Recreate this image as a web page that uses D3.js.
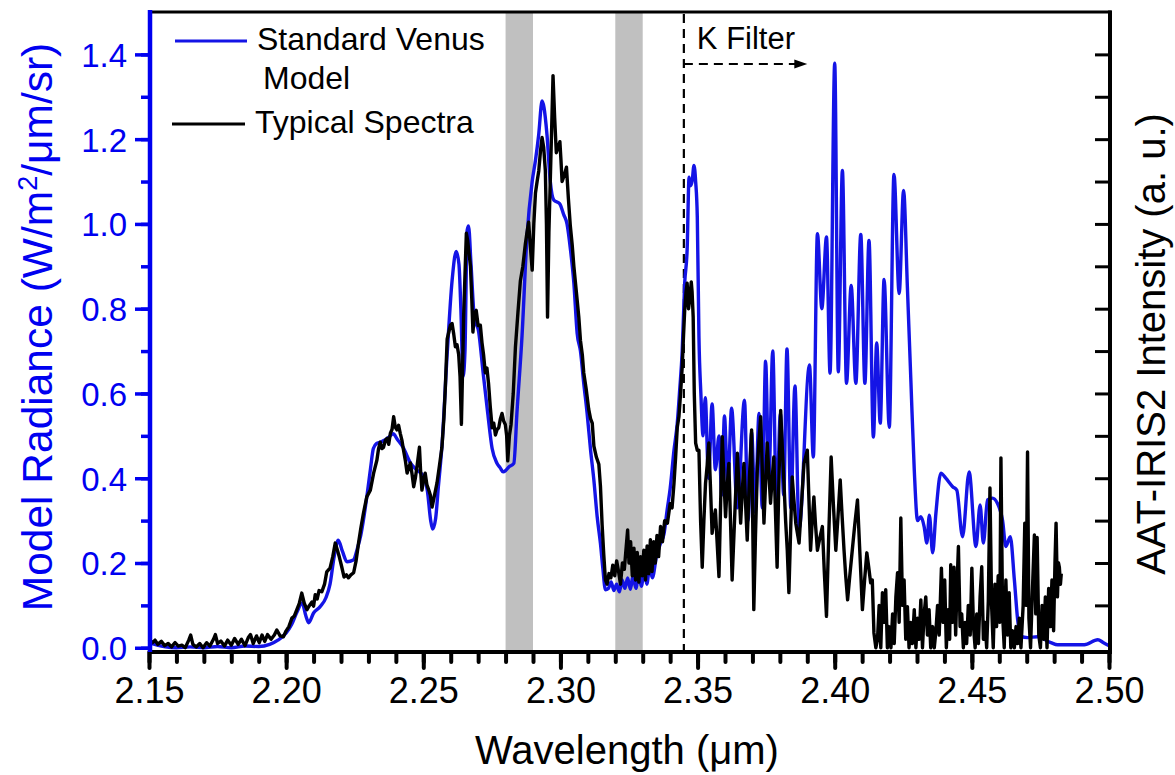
<!DOCTYPE html>
<html>
<head>
<meta charset="utf-8">
<script src="https://cdn.jsdelivr.net/npm/d3@7"></script>
<style>
  body { margin: 0; background: #fff; }
  svg text { font-family: "Liberation Sans", Arial, sans-serif; }
</style>
</head>
<body>
<div id="chart"></div>
<script>
// Tick values
const wavelengthTicks = [2.15, 2.20, 2.25, 2.30, 2.35, 2.40, 2.45, 2.50];
const radianceTicks = [0.0, 0.2, 0.4, 0.6, 0.8, 1.0, 1.2, 1.4];

// Grey bands and K filter marker (wavelength, um)
const shadedBands = [[2.28, 2.29], [2.32, 2.33]];
const kFilterStart = 2.345;
const kFilterArrowEnd = 2.39;

// Standard Venus model: [wavelength, radiance]
const modelSpectrum = [
  [2.150, 0.012], [2.153, 0.006], [2.156, 0.002], [2.160, 0.000], [2.165, 0.002], [2.170, 0.000],
  [2.175, 0.003], [2.180, 0.000], [2.185, 0.004], [2.190, 0.003], [2.194, 0.008], [2.197, 0.018],
  [2.200, 0.035], [2.202, 0.055], [2.204, 0.085], [2.2058, 0.106], [2.2072, 0.075], [2.2082, 0.059],
  [2.2100, 0.082], [2.2124, 0.097], [2.2145, 0.118], [2.2160, 0.150], [2.2175, 0.215], [2.2190, 0.254],
  [2.2205, 0.228], [2.2222, 0.203], [2.2245, 0.207], [2.2260, 0.235], [2.2272, 0.265], [2.2285, 0.315],
  [2.2296, 0.365], [2.2308, 0.425], [2.2318, 0.470], [2.2330, 0.482], [2.2343, 0.485], [2.2360, 0.490],
  [2.2375, 0.497], [2.2390, 0.505], [2.2405, 0.492], [2.2427, 0.472], [2.2453, 0.436], [2.2475, 0.420],
  [2.2500, 0.405], [2.2515, 0.370], [2.2527, 0.300], [2.2534, 0.280], [2.2545, 0.305], [2.2555, 0.380],
  [2.2568, 0.476], [2.2587, 0.692], [2.2605, 0.866], [2.2620, 0.935], [2.2630, 0.905], [2.2637, 0.800],
  [2.2645, 0.640], [2.2652, 0.700], [2.2660, 0.985], [2.2665, 0.995], [2.2674, 0.905], [2.2686, 0.780],
  [2.2702, 0.745], [2.2718, 0.650], [2.2735, 0.553], [2.2751, 0.470], [2.2769, 0.435], [2.2780, 0.425],
  [2.2791, 0.415], [2.2800, 0.418], [2.2811, 0.426], [2.2830, 0.435], [2.2842, 0.560], [2.2860, 0.736],
  [2.2878, 0.969], [2.2897, 1.100], [2.2909, 1.150], [2.2921, 1.212], [2.2933, 1.290], [2.2940, 1.275],
  [2.2951, 1.210], [2.2963, 1.100], [2.2976, 1.056], [2.2997, 1.048], [2.3012, 1.022], [2.3024, 1.000],
  [2.3037, 0.937], [2.3049, 0.860], [2.3061, 0.742], [2.3073, 0.700], [2.3085, 0.624], [2.3097, 0.555],
  [2.3110, 0.466], [2.3122, 0.395], [2.3134, 0.309], [2.3146, 0.245], [2.3155, 0.185], [2.3164, 0.137],
  [2.3175, 0.140], [2.3185, 0.155], [2.3195, 0.135], [2.3205, 0.150], [2.3215, 0.132], [2.3225, 0.160],
  [2.3235, 0.140], [2.3245, 0.165], [2.3255, 0.138], [2.3265, 0.170], [2.3275, 0.140], [2.3285, 0.175],
  [2.3295, 0.145], [2.3305, 0.180], [2.3315, 0.150], [2.3325, 0.190], [2.3335, 0.165], [2.3350, 0.215],
  [2.3365, 0.247], [2.3378, 0.270], [2.3389, 0.325], [2.3400, 0.375], [2.3414, 0.466], [2.3426, 0.530],
  [2.3435, 0.610], [2.3444, 0.700], [2.3453, 0.860], [2.3462, 0.940], [2.3469, 1.110], [2.3474, 1.090],
  [2.3480, 1.100], [2.3487, 1.138], [2.3493, 1.100], [2.3499, 1.016], [2.3505, 0.733], [2.3512, 0.600],
  [2.3520, 0.500], [2.3528, 0.590], [2.3540, 0.400], [2.3553, 0.575], [2.3565, 0.420], [2.3578, 0.500],
  [2.3588, 0.360], [2.3598, 0.547], [2.3610, 0.380], [2.3624, 0.565], [2.3645, 0.330], [2.3671, 0.584],
  [2.3684, 0.300], [2.3697, 0.509], [2.3710, 0.320], [2.3724, 0.553], [2.3736, 0.330], [2.3748, 0.676],
  [2.3760, 0.400], [2.3774, 0.700], [2.3788, 0.330], [2.3802, 0.553], [2.3814, 0.360], [2.3826, 0.705],
  [2.3840, 0.330], [2.3855, 0.618], [2.3870, 0.280], [2.3908, 0.667], [2.3922, 0.450], [2.3937, 0.977],
  [2.3953, 0.800], [2.3970, 0.969], [2.3983, 0.648], [2.4000, 1.379], [2.4013, 0.651], [2.4028, 1.126],
  [2.4043, 0.624], [2.4060, 0.855], [2.4077, 0.624], [2.4095, 0.975], [2.4110, 0.624], [2.4125, 0.961],
  [2.4141, 0.497], [2.4153, 0.719], [2.4166, 0.530], [2.4180, 0.869], [2.4199, 0.520], [2.4216, 1.117],
  [2.4235, 0.836], [2.4251, 1.079], [2.4265, 0.850], [2.4278, 0.624], [2.4290, 0.420], [2.4302, 0.300],
  [2.4314, 0.309], [2.4326, 0.286], [2.4336, 0.247], [2.4345, 0.313], [2.4357, 0.224], [2.4369, 0.318],
  [2.4387, 0.412], [2.4405, 0.400], [2.4430, 0.380], [2.4445, 0.372], [2.4466, 0.262], [2.4490, 0.415],
  [2.4515, 0.239], [2.4530, 0.337], [2.4542, 0.247], [2.4557, 0.349], [2.4575, 0.353], [2.4593, 0.341],
  [2.4612, 0.300], [2.4624, 0.239], [2.4640, 0.262], [2.4655, 0.160], [2.4667, 0.066], [2.4679, 0.027],
  [2.4703, 0.024], [2.4740, 0.026], [2.4788, 0.012], [2.4813, 0.007], [2.4910, 0.007], [2.4959, 0.019],
  [2.4980, 0.012], [2.5000, 0.005]
];

// AAT-IRIS2 typical spectrum: [wavelength, intensity]
const observedSpectrum = [
  [2.1500, 0.020], [2.1512, 0.012], [2.1522, 0.018], [2.1532, 0.008], [2.1545, 0.015], [2.1557, 0.005],
  [2.1570, 0.010], [2.1582, 0.002], [2.1595, 0.012], [2.1607, 0.004], [2.1620, 0.006], [2.1632, 0.000],
  [2.1645, 0.018], [2.1652, 0.030], [2.1660, 0.008], [2.1672, 0.002], [2.1685, 0.010], [2.1697, 0.000],
  [2.1710, 0.012], [2.1722, 0.004], [2.1735, 0.020], [2.1742, 0.031], [2.1750, 0.010], [2.1762, 0.016],
  [2.1775, 0.004], [2.1787, 0.018], [2.1800, 0.006], [2.1812, 0.022], [2.1825, 0.008], [2.1837, 0.020],
  [2.1850, 0.005], [2.1862, 0.024], [2.1870, 0.031], [2.1880, 0.010], [2.1892, 0.028], [2.1902, 0.012],
  [2.1912, 0.030], [2.1922, 0.015], [2.1932, 0.031], [2.1945, 0.020], [2.1957, 0.030], [2.1966, 0.042],
  [2.1978, 0.028], [2.1990, 0.026], [2.2000, 0.040], [2.2010, 0.050], [2.2021, 0.070], [2.2030, 0.075],
  [2.2039, 0.090], [2.2048, 0.105], [2.2057, 0.129], [2.2066, 0.105], [2.2076, 0.090], [2.2085, 0.100],
  [2.2094, 0.108], [2.2100, 0.098], [2.2106, 0.125], [2.2113, 0.115], [2.2120, 0.135], [2.2130, 0.132],
  [2.2140, 0.150], [2.2148, 0.179], [2.2160, 0.188], [2.2170, 0.215], [2.2179, 0.247], [2.2187, 0.230],
  [2.2194, 0.214], [2.2203, 0.190], [2.2211, 0.167], [2.2220, 0.172], [2.2227, 0.165], [2.2236, 0.172],
  [2.2246, 0.177], [2.2255, 0.205], [2.2264, 0.247], [2.2273, 0.285], [2.2282, 0.318], [2.2294, 0.356],
  [2.2307, 0.372], [2.2319, 0.412], [2.2331, 0.443], [2.2337, 0.470], [2.2343, 0.485], [2.2349, 0.470],
  [2.2355, 0.473], [2.2362, 0.490], [2.2368, 0.494], [2.2374, 0.480], [2.2380, 0.506], [2.2386, 0.515],
  [2.2392, 0.545], [2.2398, 0.520], [2.2404, 0.514], [2.2410, 0.525], [2.2416, 0.506], [2.2422, 0.490],
  [2.2428, 0.466], [2.2435, 0.440], [2.2441, 0.412], [2.2447, 0.425], [2.2453, 0.436], [2.2459, 0.410],
  [2.2465, 0.380], [2.2471, 0.400], [2.2477, 0.427], [2.2486, 0.473], [2.2490, 0.420], [2.2495, 0.372],
  [2.2501, 0.395], [2.2507, 0.412], [2.2513, 0.385], [2.2520, 0.372], [2.2526, 0.360], [2.2532, 0.332],
  [2.2541, 0.360], [2.2550, 0.389], [2.2559, 0.430], [2.2568, 0.473], [2.2575, 0.540], [2.2580, 0.608],
  [2.2587, 0.728], [2.2593, 0.745], [2.2599, 0.761], [2.2605, 0.765], [2.2611, 0.740], [2.2617, 0.710],
  [2.2623, 0.715], [2.2629, 0.692], [2.2634, 0.640], [2.2639, 0.527], [2.2643, 0.650], [2.2647, 0.780],
  [2.2652, 0.880], [2.2657, 0.978], [2.2662, 0.960], [2.2667, 0.930], [2.2672, 0.900], [2.2677, 0.820],
  [2.2681, 0.745], [2.2687, 0.790], [2.2693, 0.796], [2.2700, 0.760], [2.2708, 0.761], [2.2714, 0.720],
  [2.2720, 0.690], [2.2726, 0.649], [2.2732, 0.660], [2.2738, 0.623], [2.2744, 0.570], [2.2751, 0.519],
  [2.2757, 0.530], [2.2763, 0.502], [2.2769, 0.515], [2.2775, 0.519], [2.2781, 0.540], [2.2787, 0.553],
  [2.2793, 0.535], [2.2799, 0.527], [2.2804, 0.500], [2.2808, 0.441], [2.2814, 0.500], [2.2820, 0.527],
  [2.2828, 0.600], [2.2836, 0.710], [2.2845, 0.790], [2.2854, 0.866], [2.2863, 0.900], [2.2872, 0.952],
  [2.2878, 0.980], [2.2884, 1.004], [2.2890, 0.950], [2.2897, 0.891], [2.2903, 1.000], [2.2909, 1.073],
  [2.2915, 1.100], [2.2921, 1.125], [2.2927, 1.170], [2.2933, 1.204], [2.2939, 1.180], [2.2945, 1.126],
  [2.2949, 1.000], [2.2953, 0.780], [2.2958, 0.980], [2.2964, 1.126], [2.2969, 1.250], [2.2973, 1.350],
  [2.2979, 1.250], [2.2985, 1.168], [2.2991, 1.180], [2.2998, 1.194], [2.3002, 1.150], [2.3006, 1.100],
  [2.3014, 1.115], [2.3022, 1.134], [2.3029, 1.060], [2.3036, 0.996], [2.3043, 0.950], [2.3049, 0.900],
  [2.3058, 0.840], [2.3067, 0.780], [2.3073, 0.725], [2.3080, 0.690], [2.3085, 0.649], [2.3094, 0.610],
  [2.3103, 0.563], [2.3110, 0.540], [2.3116, 0.530], [2.3122, 0.476], [2.3131, 0.450], [2.3140, 0.433],
  [2.3146, 0.380], [2.3152, 0.290], [2.3158, 0.220], [2.3164, 0.160], [2.3170, 0.150], [2.3177, 0.175],
  [2.3184, 0.165], [2.3191, 0.195], [2.3198, 0.170], [2.3205, 0.205], [2.3212, 0.180], [2.3219, 0.150],
  [2.3226, 0.200], [2.3233, 0.185], [2.3240, 0.240], [2.3245, 0.278], [2.3250, 0.200], [2.3256, 0.250],
  [2.3262, 0.170], [2.3268, 0.235], [2.3274, 0.160], [2.3280, 0.225], [2.3286, 0.155], [2.3292, 0.215],
  [2.3298, 0.170], [2.3304, 0.230], [2.3310, 0.160], [2.3316, 0.240], [2.3322, 0.175], [2.3328, 0.255],
  [2.3334, 0.180], [2.3340, 0.250], [2.3346, 0.200], [2.3352, 0.265], [2.3358, 0.215], [2.3365, 0.286],
  [2.3372, 0.250], [2.3380, 0.300], [2.3390, 0.294], [2.3400, 0.340], [2.3407, 0.330], [2.3414, 0.388],
  [2.3420, 0.450], [2.3426, 0.520], [2.3432, 0.545], [2.3438, 0.600], [2.3444, 0.663], [2.3449, 0.740],
  [2.3453, 0.796], [2.3458, 0.840], [2.3462, 0.860], [2.3467, 0.800], [2.3471, 0.820], [2.3477, 0.863],
  [2.3480, 0.840], [2.3484, 0.780], [2.3488, 0.600], [2.3493, 0.483], [2.3499, 0.466], [2.3505, 0.466],
  [2.3511, 0.300], [2.3517, 0.190], [2.3523, 0.300], [2.3529, 0.388], [2.3535, 0.430], [2.3541, 0.483],
  [2.3547, 0.380], [2.3553, 0.270], [2.3559, 0.300], [2.3565, 0.325], [2.3572, 0.240], [2.3578, 0.168],
  [2.3584, 0.340], [2.3590, 0.498], [2.3596, 0.400], [2.3602, 0.309], [2.3608, 0.380], [2.3614, 0.435],
  [2.3620, 0.300], [2.3626, 0.160], [2.3636, 0.320], [2.3645, 0.459], [2.3651, 0.380], [2.3657, 0.294],
  [2.3663, 0.370], [2.3669, 0.435], [2.3675, 0.340], [2.3681, 0.254], [2.3689, 0.400], [2.3697, 0.514],
  [2.3701, 0.300], [2.3705, 0.090], [2.3711, 0.260], [2.3718, 0.427], [2.3724, 0.490], [2.3730, 0.545],
  [2.3736, 0.420], [2.3742, 0.294], [2.3748, 0.390], [2.3754, 0.483], [2.3760, 0.410], [2.3766, 0.341],
  [2.3772, 0.400], [2.3778, 0.450], [2.3784, 0.320], [2.3790, 0.190], [2.3796, 0.380], [2.3803, 0.560],
  [2.3809, 0.470], [2.3815, 0.388], [2.3821, 0.300], [2.3827, 0.230], [2.3833, 0.130], [2.3839, 0.270],
  [2.3845, 0.403], [2.3851, 0.350], [2.3858, 0.294], [2.3864, 0.270], [2.3870, 0.247], [2.3879, 0.340],
  [2.3888, 0.435], [2.3894, 0.450], [2.3900, 0.466], [2.3906, 0.350], [2.3912, 0.230], [2.3918, 0.300],
  [2.3924, 0.356], [2.3930, 0.290], [2.3937, 0.230], [2.3946, 0.260], [2.3955, 0.286], [2.3962, 0.180],
  [2.3970, 0.074], [2.3978, 0.260], [2.3987, 0.450], [2.3995, 0.340], [2.4004, 0.230], [2.4012, 0.310],
  [2.4020, 0.396], [2.4027, 0.310], [2.4034, 0.230], [2.4040, 0.170], [2.4047, 0.113], [2.4055, 0.170],
  [2.4064, 0.230], [2.4073, 0.290], [2.4083, 0.349], [2.4092, 0.220], [2.4101, 0.090], [2.4109, 0.160],
  [2.4117, 0.224], [2.4124, 0.190], [2.4131, 0.153], [2.4137, 0.160], [2.4143, 0.035], [2.4150, 0.000],
  [2.4156, 0.020], [2.4162, 0.100], [2.4168, 0.000], [2.4174, 0.130], [2.4180, 0.060], [2.4186, 0.137],
  [2.4192, 0.000], [2.4198, 0.050], [2.4205, 0.000], [2.4211, 0.080], [2.4217, 0.010], [2.4223, 0.120],
  [2.4229, 0.177], [2.4235, 0.060], [2.4241, 0.306], [2.4247, 0.100], [2.4253, 0.160], [2.4259, 0.020],
  [2.4265, 0.097], [2.4271, 0.000], [2.4277, 0.060], [2.4283, 0.010], [2.4290, 0.090], [2.4296, 0.000],
  [2.4302, 0.070], [2.4308, 0.020], [2.4314, 0.113], [2.4320, 0.000], [2.4326, 0.080], [2.4332, 0.120],
  [2.4338, 0.030], [2.4344, 0.090], [2.4350, 0.000], [2.4357, 0.050], [2.4363, 0.000], [2.4369, 0.040],
  [2.4375, 0.100], [2.4381, 0.030], [2.4389, 0.188], [2.4395, 0.060], [2.4401, 0.160], [2.4407, 0.000],
  [2.4413, 0.090], [2.4419, 0.020], [2.4423, 0.196], [2.4429, 0.060], [2.4435, 0.190], [2.4441, 0.030],
  [2.4445, 0.130], [2.4451, 0.239], [2.4457, 0.050], [2.4463, 0.080], [2.4469, 0.000], [2.4475, 0.060],
  [2.4481, 0.010], [2.4487, 0.100], [2.4494, 0.030], [2.4500, 0.188], [2.4506, 0.050], [2.4512, 0.000],
  [2.4518, 0.080], [2.4524, 0.010], [2.4530, 0.120], [2.4536, 0.191], [2.4542, 0.020], [2.4548, 0.060],
  [2.4554, 0.000], [2.4560, 0.110], [2.4566, 0.377], [2.4572, 0.100], [2.4578, 0.000], [2.4584, 0.150],
  [2.4590, 0.050], [2.4596, 0.170], [2.4602, 0.060], [2.4606, 0.448], [2.4612, 0.080], [2.4618, 0.000],
  [2.4624, 0.160], [2.4630, 0.030], [2.4636, 0.130], [2.4642, 0.000], [2.4648, 0.040], [2.4655, 0.000],
  [2.4661, 0.050], [2.4667, 0.010], [2.4673, 0.070], [2.4679, 0.000], [2.4687, 0.100], [2.4693, 0.294],
  [2.4698, 0.100], [2.4703, 0.462], [2.4708, 0.070], [2.4714, 0.000], [2.4720, 0.120], [2.4728, 0.266],
  [2.4733, 0.080], [2.4738, 0.260], [2.4744, 0.030], [2.4750, 0.000], [2.4756, 0.100], [2.4762, 0.020],
  [2.4768, 0.120], [2.4774, 0.000], [2.4780, 0.140], [2.4786, 0.050], [2.4792, 0.160], [2.4798, 0.040],
  [2.4803, 0.200], [2.4807, 0.294], [2.4812, 0.120], [2.4816, 0.200], [2.4819, 0.190], [2.4823, 0.150],
  [2.4826, 0.175]
];

class SpectraPlot {
  constructor(_config) {
    this.config = {
      parentElement: _config.parentElement,
      containerWidth: _config.containerWidth || 1175,
      containerHeight: _config.containerHeight || 775,
      margin: { top: 12, right: 66, bottom: 123, left: 149 }
    }
    this.blue = '#0000f0';
    this.initVis();
  }

  initVis() {
    let vis = this;
    vis.config.width = vis.config.containerWidth - vis.config.margin.left - vis.config.margin.right;
    vis.config.height = vis.config.containerHeight - vis.config.margin.top - vis.config.margin.bottom;

    vis.svg = d3.select(vis.config.parentElement).append('svg')
      .attr('width', vis.config.containerWidth)
      .attr('height', vis.config.containerHeight);

    vis.chart = vis.svg.append('g')
      .attr('transform', `translate(${vis.config.margin.left},${vis.config.margin.top})`);

    vis.xScale = d3.scaleLinear().domain([2.15, 2.50]).range([0, vis.config.width]);
    // y runs a little below zero so the 0.0 tick sits just above the bottom axis
    vis.yScale = d3.scaleLinear().domain([-0.01, 1.5]).range([vis.config.height, 0]);
  }

  renderVis() {
    let vis = this;
    const h = vis.config.height;

    // Shaded absorption bands
    vis.chart.selectAll('.band').data(shadedBands).join('rect')
      .attr('class', 'band')
      .attr('x', d => vis.xScale(d[0]))
      .attr('width', d => vis.xScale(d[1]) - vis.xScale(d[0]))
      .attr('y', 0)
      .attr('height', h)
      .attr('fill', '#c0c0c0');

    // K filter marker
    const kx = vis.xScale(kFilterStart);
    vis.chart.append('line')
      .attr('x1', kx).attr('x2', kx).attr('y1', 2).attr('y2', h)
      .attr('stroke', '#000').attr('stroke-width', 2.2).attr('stroke-dasharray', '9,6');
    const arrowY = 52;
    const tipX = vis.xScale(kFilterArrowEnd);
    vis.chart.append('line')
      .attr('x1', kx).attr('x2', tipX - 10).attr('y1', arrowY).attr('y2', arrowY)
      .attr('stroke', '#000').attr('stroke-width', 2.2).attr('stroke-dasharray', '9,6');
    vis.chart.append('path')
      .attr('d', `M${tipX},${arrowY} L${tipX - 13},${arrowY - 4.5} L${tipX - 13},${arrowY + 4.5} Z`)
      .attr('fill', '#000');
    vis.chart.append('text')
      .attr('x', kx + 13).attr('y', 37)
      .attr('font-size', 31)
      .text('K Filter');

    // Spectra
    const modelLine = d3.line()
      .x(d => vis.xScale(d[0]))
      .y(d => vis.yScale(d[1]))
      .curve(d3.curveMonotoneX);
    const obsLine = d3.line()
      .x(d => vis.xScale(d[0]))
      .y(d => vis.yScale(d[1]));

    vis.chart.append('path')
      .datum(modelSpectrum)
      .attr('d', modelLine)
      .attr('fill', 'none')
      .attr('stroke', '#1414e6')
      .attr('stroke-width', 3.4)
      .attr('stroke-linejoin', 'round');

    vis.chart.append('path')
      .datum(observedSpectrum)
      .attr('d', obsLine)
      .attr('fill', 'none')
      .attr('stroke', '#000')
      .attr('stroke-width', 3.4)
      .attr('stroke-linejoin', 'round');

    vis.renderAxes();
    vis.renderLegend();
  }

  renderAxes() {
    let vis = this;
    const w = vis.config.width, h = vis.config.height;
    const minorX = d3.range(0, 36).map(i => +(2.15 + i * 0.01).toFixed(2));
    const minorY = d3.range(0, 15).map(i => +(i * 0.1).toFixed(1));

    // Bottom axis: minor then major ticks
    const xMinor = vis.chart.append('g')
      .attr('transform', `translate(0,${h})`)
      .call(d3.axisBottom(vis.xScale).tickValues(minorX).tickSize(10).tickFormat(''));
    const xMajor = vis.chart.append('g')
      .attr('transform', `translate(0,${h})`)
      .call(d3.axisBottom(vis.xScale).tickValues(wavelengthTicks).tickSize(16).tickFormat(d3.format('.2f')));
    [xMinor, xMajor].forEach(g => {
      g.select('.domain').remove();
      g.selectAll('.tick line')
        .attr('stroke', '#000').attr('stroke-width', 4).attr('stroke-linecap', 'round');
    });
    xMajor.selectAll('.tick text')
      .attr('y', 51).attr('dy', 0)
      .attr('fill', '#000')
      .attr('font-size', 36);

    // Left axis in blue
    const yMinor = vis.chart.append('g')
      .call(d3.axisLeft(vis.yScale).tickValues(minorY).tickSize(8).tickFormat(''));
    const yMajor = vis.chart.append('g')
      .call(d3.axisLeft(vis.yScale).tickValues(radianceTicks).tickSize(14).tickFormat(d3.format('.1f')));
    [yMinor, yMajor].forEach(g => {
      g.select('.domain').remove();
      g.selectAll('.tick line').attr('stroke', vis.blue).attr('stroke-width', 3.5);
    });
    yMajor.selectAll('.tick text')
      .attr('x', -22)
      .attr('dy', '0.36em')
      .attr('fill', vis.blue)
      .attr('font-size', 33);

    // Right axis: unlabeled ticks pointing inwards
    const yRight = vis.chart.append('g')
      .attr('transform', `translate(${w + 1},0)`)
      .call(d3.axisRight(vis.yScale).tickValues(minorY.slice(1)).tickSizeInner(-15).tickSizeOuter(0).tickFormat(''));
    yRight.select('.domain').remove();
    yRight.selectAll('.tick line').attr('stroke', '#000').attr('stroke-width', 3);

    // Frame lines
    vis.chart.append('line')
      .attr('x1', 0).attr('x2', w + 2.5).attr('y1', 0).attr('y2', 0)
      .attr('stroke', '#000').attr('stroke-width', 3);
    vis.chart.append('line')
      .attr('x1', w + 1).attr('x2', w + 1).attr('y1', -1.5).attr('y2', h + 2)
      .attr('stroke', '#000').attr('stroke-width', 4);
    vis.chart.append('line')
      .attr('x1', 0).attr('x2', w + 3).attr('y1', h).attr('y2', h)
      .attr('stroke', '#000').attr('stroke-width', 4);
    vis.chart.append('line')
      .attr('x1', 1).attr('x2', 1).attr('y1', -2).attr('y2', h)
      .attr('stroke', vis.blue).attr('stroke-width', 4.5);

    // Axis titles
    vis.svg.append('text')
      .attr('x', vis.config.margin.left + w / 2 - 2)
      .attr('y', 764)
      .attr('text-anchor', 'middle')
      .attr('font-size', 40)
      .text('Wavelength (\u03bcm)');

    const leftTitle = vis.svg.append('text')
      .attr('transform', 'translate(52,327) rotate(-90)')
      .attr('text-anchor', 'middle')
      .attr('font-size', 42.5)
      .attr('fill', vis.blue);
    leftTitle.append('tspan').text('Model Radiance (W/m');
    leftTitle.append('tspan').attr('dy', -15).attr('font-size', 27).text('2');
    leftTitle.append('tspan').attr('dy', 15).text('/\u03bcm/sr)');

    vis.svg.append('text')
      .attr('transform', 'translate(1165,344) rotate(-90)')
      .attr('text-anchor', 'middle')
      .attr('font-size', 40)
      .text('AAT-IRIS2 Intensity (a. u.)');
  }

  renderLegend() {
    let vis = this;
    const items = [
      { color: '#1414e6', lines: ['Standard Venus', 'Model'], x1: 26, x2: 98, y: 29 },
      { color: '#000', lines: ['Typical Spectra'], x1: 23, x2: 96, y: 112 }
    ];
    const legend = vis.chart.append('g');
    items.forEach(item => {
      legend.append('line')
        .attr('x1', item.x1).attr('x2', item.x2).attr('y1', item.y).attr('y2', item.y)
        .attr('stroke', item.color).attr('stroke-width', 3);
      item.lines.forEach((txt, i) => {
        legend.append('text')
          .attr('x', item.x2 + 10 + (i > 0 ? 6 : 0))
          .attr('y', item.y + 9 + i * 39)
          .attr('font-size', 32)
          .text(txt);
      });
    });
  }
}

const plot = new SpectraPlot({ parentElement: '#chart' });
plot.renderVis();
</script>
</body>
</html>
